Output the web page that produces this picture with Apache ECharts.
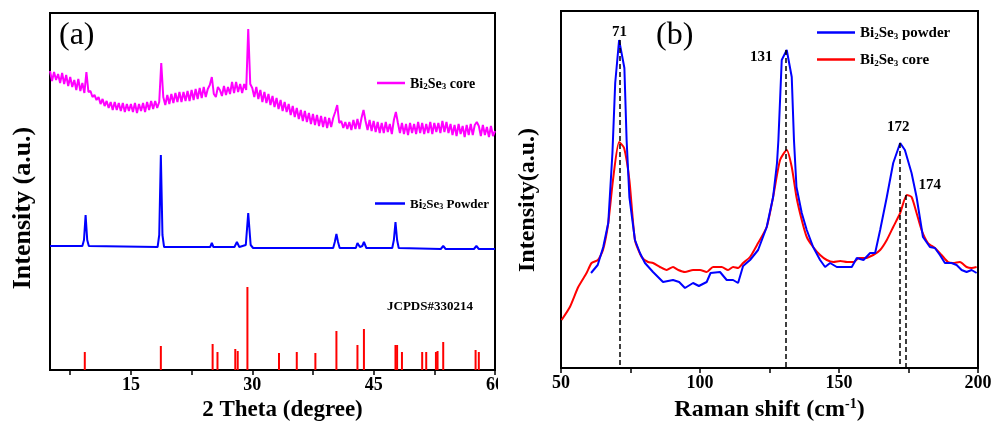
<!DOCTYPE html>
<html>
<head>
<meta charset="utf-8">
<script src="https://cdn.jsdelivr.net/npm/echarts@6/dist/echarts.min.js"></script>
<style>
body{margin:0;background:#fff}
#chartA{position:absolute;left:0;top:0;width:498px;height:422px}
#chartB{position:absolute;left:500px;top:0;width:494px;height:422px}
</style>
</head>
<body>
<div id="chartA"></div>
<div id="chartB"></div>
<script>
// (a) XRD, core sample: one reading every 0.25 deg from 5 to 60
var xrdStart = 5, xrdStep = 0.25;
var xrdCore = [
    299,289,298,290, 296,287,297,286, 295,284,293,283, 290,280,291,279,
    287,277,298,278, 279,273,275,270, 273,266,271,264, 269,262,268,260,
    268,260,267,259, 267,258,266,259, 266,258,267,257, 266,259,267,258,
    268,260,269,261, 269,262,268,307, 273,265,275,266, 276,267,277,268,
    278,268,278,269, 279,269,280,270, 281,271,282,272, 283,273,281,285,
    293,276,273,283, 280,274,284,275, 283,276,288,277, 288,278,286,277,
    286,280,341,286, 282,273,283,271, 280,268,278,267, 276,265,274,263,
    272,261,270,259, 268,258,266,255, 264,253,262,251, 260,249,259,248,
    257,246,256,245, 255,244,254,243, 253,242,252,243, 252,258,265,247,
    249,242,248,241, 248,240,250,241, 251,241,252,260, 249,240,250,239,
    249,238,248,237, 247,237,248,238, 246,236,250,258, 247,237,247,236,
    246,235,247,237, 246,236,248,237, 247,236,246,237, 248,236,247,238,
    247,237,249,238, 248,237,246,235, 245,234,246,236, 244,233,245,235,
    246,235,245,248, 244,234,245,235, 243,233,244,234, 239
];
// (a) XRD, powder: [2theta, intensity]
var xrdPowder = [
    [5,124],[9.0,124],[9.2,130],[9.4,155],[9.6,130],[9.8,124],
    [18.3,123],[18.5,135],[18.7,215],[18.9,135],[19.1,123],
    [24.8,123],[25.0,127],[25.2,123],[27.8,123],[28.1,128],[28.4,123],
    [29.2,125],[29.5,157],[29.8,125],[30.1,122],[35.4,122],[35.5,123],[35.6,122],
    [37.7,122],[37.8,123],[37.9,122],[40.0,122],[40.2,128],[40.4,136],[40.6,128],[40.8,122],
    [42.8,122],[43.0,127],[43.3,123],[43.6,124],[43.8,128],[44.1,122],
    [47.3,122],[47.5,130],[47.7,148],[47.9,130],[48.1,122],
    [53.3,121],[53.6,124],[53.9,121],[57.4,121],[57.7,124],[58.0,121],[60,121]
];
// (a) JCPDS#330214 reference lines
var jcpds = [
    [9.3,18],[18.7,24],[25.1,26],[25.7,18],[27.9,21],[28.2,19],[29.4,83],
    [33.3,17],[35.5,18],[37.8,17],[40.4,39],[43.0,25],[43.8,41],[47.7,25],
    [47.9,25],[48.5,18],[51.0,18],[51.5,18],[52.7,18],[52.9,19],[53.6,28],
    [57.6,20],[58.0,18]
];
var xrdTicks = [7.5,15,22.5,30,37.5,45,52.5,60];
var xrdLabels = [15,30,45,60];

// (b) Raman: [shift, intensity]
var ramanPowder = [
    [60.8,95],[63.2,103],[65.2,121],[67.0,145],[68.5,215],[69.5,285],[70.9,328],[72.8,300],
    [73.6,228],[74.6,171],[76.6,128],[78.4,115],[80.2,105],[83.1,96],[86.7,86],[90.3,88],
    [92.5,86],[94.6,80],[97.5,85],[99.6,82],[102.4,86],[103.8,95],[107.2,96],[109.6,88],
    [111.9,88],[113.7,85],[115.5,102],[118,108],[120.9,118],[124,141],[126.3,171],[127.7,205],
    [128.2,228],[129.4,308],[131.2,318],[133,291],[133.8,228],[134.7,181],[136.6,155],[138.4,138],
    [140.7,121],[143.2,108],[145,101],[146.8,105],[149.2,101],[151.5,101],[154.6,101],[156.4,110],
    [158.8,108],[161.2,115],[163,115],[164.8,138],[167.2,171],[169.5,205],[172,225],[173.7,218],
    [176.1,195],[177.9,171],[180.2,131],[182.7,121],[184.5,120],[186.3,113],[188.1,105],[190.5,105],
    [192.3,103],[194.1,98],[195.9,96],[197.7,98],[199.5,95]
];
var ramanCore = [
    [50.2,48],[53.2,61],[56.2,81],[59.2,95],[61,105],[63.3,108],[65.1,118],[67,145],
    [68.7,188],[70.9,226],[72.7,220],[74.6,188],[76.6,128],[79,111],[81.3,106],[83.1,105],
    [85.6,101],[88,98],[90.3,101],[92.2,98],[94.6,96],[97.5,98],[100,98],[102.4,96],
    [104.7,101],[107.8,101],[110.1,98],[111.9,101],[113.7,100],[115.5,105],[118,111],[120.9,125],
    [124,141],[126.3,171],[128.8,208],[131.2,218],[133,201],[134.7,171],[136.6,148],[138.4,131],
    [140.7,121],[143.2,113],[145.6,108],[148,106],[150.5,107],[152.9,106],[155.3,106],[157.1,110],
    [159.5,110],[162.3,113],[164.8,118],[167.2,128],[169.5,141],[172,155],[174.4,173],[176.1,171],
    [177.9,155],[179.7,138],[182,125],[184.5,120],[186.9,113],[189.2,106],[191,105],[193.5,106],
    [195.9,101],[197.7,100],[199.5,101]
];
var peakShift = [71, 131, 172, 174];
var peakTop = [328, 318, 225, 173];
var peakLabelOffset = [[0,-8],[-25,7],[-2,-16],[24,-10]];

var serif = 'Liberation Serif';

function subName(size) {
    return function (name) {
        return '{t|Bi}{s|2}{t|Se}{s|3}{t|' + name.slice(6) + '}';
    };
}
function subRich(size) {
    return {
        t: {fontFamily: serif, fontWeight: 'bold', fontSize: size, color: '#000', verticalAlign: 'bottom', lineHeight: size + 2},
        s: {fontFamily: serif, fontWeight: 'bold', fontSize: Math.round(size * 0.62), color: '#000', verticalAlign: 'bottom', lineHeight: 4}
    };
}
var titleStyle = {fontFamily: serif, fontWeight: 'bold', fontSize: 23, color: '#000'};
var tickLabelStyle = {fontFamily: serif, fontWeight: 'bold', fontSize: 18, color: '#000'};

var coreData = [];
for (var i = 0; i < xrdCore.length; i++) {
    coreData.push([xrdStart + i * xrdStep, xrdCore[i]]);
}

var chartA = echarts.init(document.getElementById('chartA'));
chartA.setOption({
    animation: false,
    grid: {left: 50, top: 13, width: 445, height: 357, show: true, borderColor: '#000', borderWidth: 2,
           outerBoundsMode: 'none'},
    xAxis: {
        type: 'value', min: 5, max: 60,
        name: '2 Theta (degree)', nameLocation: 'middle', nameGap: 23,
        nameTextStyle: Object.assign({padding: [0, 0, 0, 20]}, titleStyle),
        axisLine: {lineStyle: {color: '#000', width: 2}},
        axisTick: {show: true, customValues: xrdTicks, length: 5, lineStyle: {color: '#000', width: 1.5}},
        axisLabel: Object.assign({customValues: xrdLabels, margin: 6}, tickLabelStyle),
        splitLine: {show: false}
    },
    yAxis: {
        type: 'value', min: 0, max: 357,
        axisLine: {show: true, lineStyle: {color: '#000', width: 2}},
        axisTick: {show: false}, axisLabel: {show: false}, splitLine: {show: false}
    },
    legend: [
        {data: ['Bi2Se3 core'], left: 377, top: 77, padding: 0, icon: 'rect', itemWidth: 28, itemHeight: 2.5,
         formatter: subName(14), textStyle: {rich: subRich(14)}},
        {data: ['Bi2Se3 Powder'], left: 375, top: 198, padding: 0, icon: 'rect', itemWidth: 30, itemHeight: 2.5,
         formatter: subName(13), textStyle: {rich: subRich(13)}}
    ],
    graphic: [
        {type: 'text', left: 59, top: 20, style: {text: '(a)', font: '32px "Liberation Serif"', fill: '#000'}},
        {type: 'text', left: 387, top: 300, style: {text: 'JCPDS#330214', font: 'bold 13px "Liberation Serif"', fill: '#000'}},
        {type: 'text', x: 23, y: 208, rotation: Math.PI / 2,
         style: {text: 'Intensity (a.u.)', font: 'bold 26px "Liberation Serif"', fill: '#000', align: 'center', verticalAlign: 'middle'}}
    ],
    series: [
        {name: 'JCPDS', type: 'bar', data: jcpds, barWidth: 2, itemStyle: {color: '#ff0000'}},
        {name: 'Bi2Se3 Powder', type: 'line', data: xrdPowder, symbol: 'none',
         lineStyle: {color: '#0000ff', width: 2}, itemStyle: {color: '#0000ff'}},
        {name: 'Bi2Se3 core', type: 'line', data: coreData, symbol: 'none',
         lineStyle: {color: '#ff00ff', width: 2}, itemStyle: {color: '#ff00ff'}}
    ]
});

var chartB = echarts.init(document.getElementById('chartB'));
var dashLines = [], peakMarks = [];
for (var k = 0; k < peakShift.length; k++) {
    dashLines.push([{coord: [peakShift[k], peakTop[k]]}, {coord: [peakShift[k], 0]}]);
    peakMarks.push({coord: [peakShift[k], peakTop[k]], value: String(peakShift[k]),
                    label: {offset: peakLabelOffset[k]}});
}
chartB.setOption({
    animation: false,
    grid: {left: 61, top: 11, width: 417, height: 357, show: true, borderColor: '#000', borderWidth: 2,
           outerBoundsMode: 'none'},
    xAxis: {
        type: 'value', min: 50, max: 200, interval: 25,
        name: '{t|Raman shift (cm}{p|-1}{t|)}', nameLocation: 'middle', nameGap: 22,
        nameTextStyle: {rich: {
            t: {fontFamily: serif, fontWeight: 'bold', fontSize: 24, color: '#000', verticalAlign: 'bottom', lineHeight: 25},
            p: {fontFamily: serif, fontWeight: 'bold', fontSize: 14, color: '#000', verticalAlign: 'top', lineHeight: 10}
        }},
        axisLine: {lineStyle: {color: '#000', width: 2}},
        axisTick: {show: true, length: 5, lineStyle: {color: '#000', width: 1.5}},
        axisLabel: Object.assign({margin: 6, formatter: function (v) { return v % 50 === 0 ? v : ''; }}, tickLabelStyle),
        splitLine: {show: false}
    },
    yAxis: {
        type: 'value', min: 0, max: 357,
        axisLine: {show: true, lineStyle: {color: '#000', width: 2}},
        axisTick: {show: false}, axisLabel: {show: false}, splitLine: {show: false}
    },
    legend: {
        data: ['Bi2Se3 powder', 'Bi2Se3 core'], orient: 'vertical', left: 317, top: 26, padding: 0, itemGap: 12,
        icon: 'rect', itemWidth: 38, itemHeight: 2.5,
        formatter: subName(15), textStyle: {rich: subRich(15)}
    },
    graphic: [
        {type: 'text', left: 156, top: 20, style: {text: '(b)', font: '32px "Liberation Serif"', fill: '#000'}},
        {type: 'text', x: 28, y: 200, rotation: Math.PI / 2,
         style: {text: 'Intensity(a.u.)', font: 'bold 24px "Liberation Serif"', fill: '#000', align: 'center', verticalAlign: 'middle'}}
    ],
    series: [
        {name: 'Bi2Se3 core', type: 'line', data: ramanCore, symbol: 'none', smooth: 0.2,
         lineStyle: {color: '#ff0000', width: 2}, itemStyle: {color: '#ff0000'}},
        {name: 'Bi2Se3 powder', type: 'line', data: ramanPowder, symbol: 'none',
         lineStyle: {color: '#0000ff', width: 2}, itemStyle: {color: '#0000ff'},
         markLine: {silent: true, symbol: 'none', label: {show: false},
                    lineStyle: {color: '#000', type: [5, 3], width: 1.5}, data: dashLines},
         markPoint: {symbol: 'circle', symbolSize: 1, itemStyle: {color: 'rgba(0,0,0,0)'},
                     label: {show: true, position: 'inside', fontFamily: serif, fontWeight: 'bold',
                             fontSize: 15, color: '#000'},
                     data: peakMarks}}
    ]
});
</script>
</body>
</html>
